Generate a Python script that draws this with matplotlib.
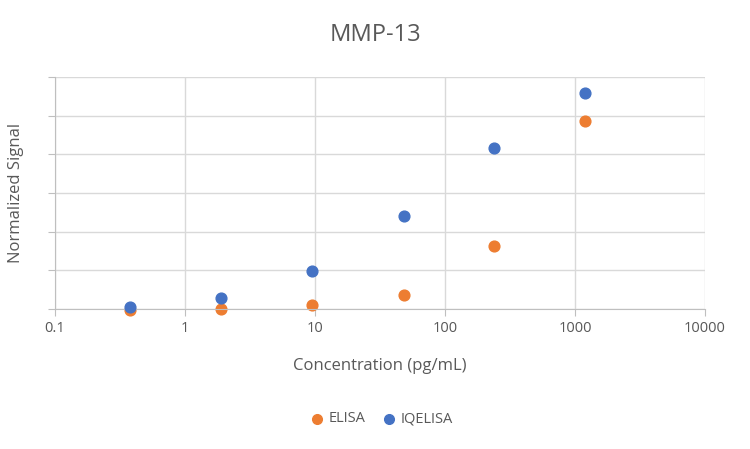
import matplotlib
matplotlib.use("Agg")
import matplotlib.pyplot as plt

conc = [0.38, 1.9, 9.5, 48, 240, 1200]
elisa = [-0.02, 0.0, 0.1, 0.36, 1.63, 4.86]
iqelisa = [0.06, 0.28, 0.98, 2.4, 4.16, 5.58]
xticks = [0.1, 1, 10, 100, 1000, 10000]
xticklabels = ["0.1", "1", "10", "100", "1000", "10000"]

plt.rcParams["font.family"] = "Open Sans"
fig = plt.figure(figsize=(7.5, 4.49), dpi=100)
ax = fig.add_axes([55/750, 1-309/449, 650/750, 232/449])
ax.set_xscale("log")
ax.set_xlim(0.1, 10000)
ax.set_ylim(0, 6)
ax.set_yticks(range(7))
ax.set_yticklabels([])
ax.set_xticks(xticks)
ax.set_xticklabels(xticklabels, fontsize=10.5, color="#595959")
ax.minorticks_off()
ax.grid(True, color="#d9d9d9", linewidth=1)
ax.set_axisbelow(True)
for s in ["top", "right"]:
    ax.spines[s].set_visible(False)
for s in ["left", "bottom"]:
    ax.spines[s].set_color("#bfbfbf")
ax.tick_params(colors="#bfbfbf", length=5, labelcolor="#595959")
ax.scatter(conc, iqelisa, s=60, color="#4472c4", label="IQELISA", zorder=3, clip_on=False)
ax.scatter(conc, elisa, s=60, color="#ed7d31", label="ELISA", zorder=2, clip_on=False)
ax.set_xlabel("Concentration (pg/mL)", fontsize=12, color="#595959", labelpad=16)
ax.set_ylabel("Normalized Signal", fontsize=12, color="#595959", labelpad=14)
fig.suptitle("MMP-13", y=1-35/449, va="center", fontsize=17, color="#595959")
h, l = ax.get_legend_handles_labels()
fig.legend(h[::-1], l[::-1], loc="center", bbox_to_anchor=(378/750, 1-419/449), ncol=2, frameon=False,
           fontsize=10.5, handletextpad=-0.2, columnspacing=0.6, markerscale=0.9,
           labelcolor="#595959")
fig.savefig("out.png")
